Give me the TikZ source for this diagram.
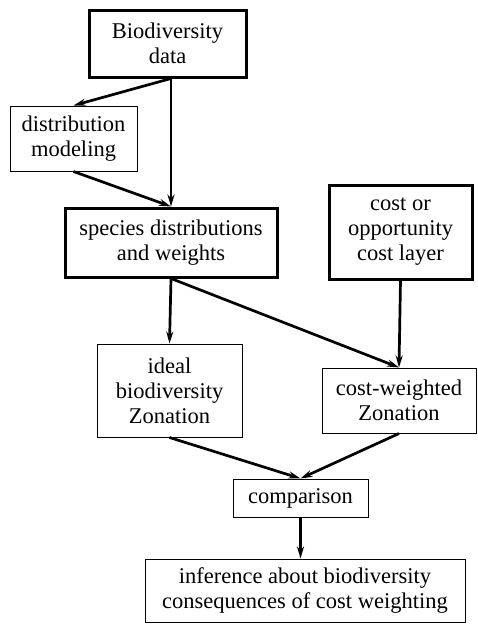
\documentclass[tikz,border=0pt]{standalone}
\usepackage{fontspec}
\setmainfont{Liberation Serif}
\usepackage{tikz}
\usetikzlibrary{arrows.meta}
\tikzset{
  box/.style={rectangle, draw, line width=1pt, align=center, inner sep=0pt},
  bbox/.style={box, line width=3pt},
  flow/.style={line width=2.7pt, -{Stealth[length=12pt, width=7pt]}},
  >=Stealth
}

\begin{document}
\begin{tikzpicture}[x=1pt, y=-1pt, every node/.style={font=\fontsize{22.5}{25}\selectfont}]
  \useasboundingbox (0,0) rectangle (477,624);
  \node[bbox, minimum width=157pt, minimum height=67pt] (bio) at (167.5,43.5) {Biodiversity\\data};
  \node[box, minimum width=127pt, minimum height=65pt] (dmod) at (73.5,138.5) {distribution\\modeling};
  \node[bbox, minimum width=212pt, minimum height=69pt] (spw) at (171,242.5) {species distributions\\and weights};
  \node[bbox, minimum width=143pt, minimum height=94pt] (cost) at (400.5,232) {cost or\\opportunity\\cost layer};
  \node[box, minimum width=145pt, minimum height=93pt] (ideal) at (169.5,390.5) {ideal\\biodiversity\\Zonation};
  \node[box, minimum width=154pt, minimum height=65pt] (cwz) at (399,400.5) {cost-weighted\\Zonation};
  \node[box, minimum width=135pt, minimum height=38pt] (cmp) at (300.5,498) {comparison};
  \node[box, minimum width=320pt, minimum height=63pt] (inf) at (305,590.5) {inference about biodiversity\\consequences of cost weighting};
  \coordinate (bs) at (bio.south -| spw.north);
  % arrows
  \draw[flow] (bs) -- (dmod.north);
  \draw[flow] (bs) -- (spw.north);
  \draw[flow] (dmod.south) -- (spw.north);
  \draw[flow] (spw.south) -- (ideal.north);
  \draw[flow] (spw.south) -- (cwz.north);
  \draw[flow] (cost.south) -- (cwz.north);
  \draw[flow] (ideal.south) -- (cmp.north);
  \draw[flow] (cwz.south) -- (cmp.north);
  \draw[flow] (cmp.south) -- (cmp.south |- inf.north);
\end{tikzpicture}
\end{document}
